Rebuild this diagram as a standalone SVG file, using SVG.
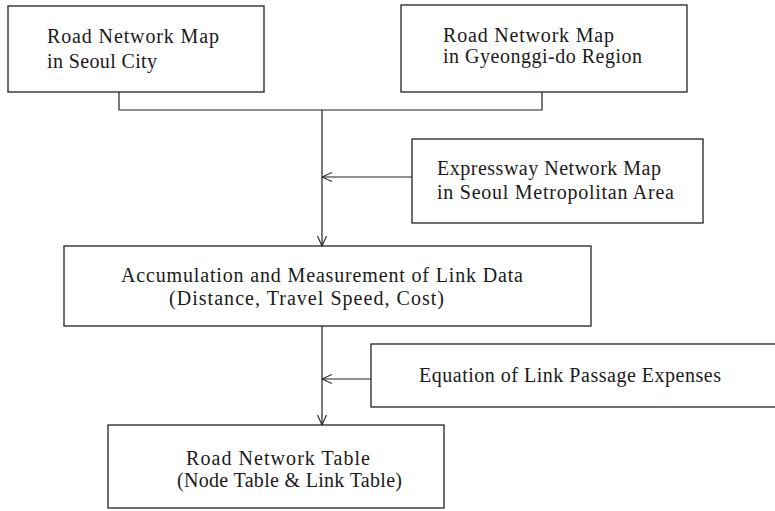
<svg xmlns="http://www.w3.org/2000/svg" width="775" height="511" viewBox="0 0 775 511">
  <style>
    .box { fill: #fff; stroke: #222; stroke-width: 1.3; }
    .lbl { font-family: "Liberation Serif", "DejaVu Serif", serif; font-size: 20px; fill: #1a1a1a; }
    .wire { fill: none; stroke: #222; stroke-width: 1.2; }
  </style>
  <defs>
    <marker id="arrow" viewBox="0 0 10 10" refX="10" refY="5" markerWidth="10" markerHeight="10" markerUnits="userSpaceOnUse" orient="auto">
      <path d="M0,0.5 L10,5 L0,9.5" fill="none" stroke="#222" stroke-width="1.1"/>
    </marker>
  </defs>
  <rect width="775" height="511" fill="#fff"/>

  <g id="connectors">
    <path class="wire" d="M119,92 V110 H542 V92"/>
    <path class="wire" d="M322,110 V246" marker-end="url(#arrow)"/>
    <path class="wire" d="M412,177 H322" marker-end="url(#arrow)"/>
    <path class="wire" d="M322,326 V425" marker-end="url(#arrow)"/>
    <path class="wire" d="M371,379 H322" marker-end="url(#arrow)"/>
  </g>

  <g id="seoul-map">
    <rect class="box" x="8" y="6" width="256" height="86"/>
    <text class="lbl" x="47" y="43" textLength="172" lengthAdjust="spacing">Road Network Map</text>
    <text class="lbl" x="47" y="68" textLength="110" lengthAdjust="spacing">in Seoul City</text>
  </g>

  <g id="gyeonggi-map">
    <rect class="box" x="401" y="5" width="286" height="87"/>
    <text class="lbl" x="443" y="42" textLength="171" lengthAdjust="spacing">Road Network Map</text>
    <text class="lbl" x="443" y="63" textLength="199" lengthAdjust="spacing">in Gyeonggi-do Region</text>
  </g>

  <g id="expressway-map">
    <rect class="box" x="412" y="139" width="291" height="84"/>
    <text class="lbl" x="437" y="175" textLength="224" lengthAdjust="spacing">Expressway Network Map</text>
    <text class="lbl" x="437" y="199" textLength="237" lengthAdjust="spacing">in Seoul Metropolitan Area</text>
  </g>

  <g id="link-data">
    <rect class="box" x="64" y="246" width="527" height="80"/>
    <text class="lbl" x="121" y="282" textLength="402" lengthAdjust="spacing">Accumulation and Measurement of Link Data</text>
    <text class="lbl" x="169" y="305" textLength="275" lengthAdjust="spacing">(Distance, Travel Speed, Cost)</text>
  </g>

  <g id="passage-expenses">
    <rect class="box" x="371" y="344" width="410" height="63"/>
    <text class="lbl" x="419" y="382" textLength="302" lengthAdjust="spacing">Equation of Link Passage Expenses</text>
  </g>

  <g id="network-table">
    <rect class="box" x="108" y="425" width="336" height="83"/>
    <text class="lbl" x="186" y="465" textLength="184" lengthAdjust="spacing">Road Network Table</text>
    <text class="lbl" x="177" y="487" textLength="225" lengthAdjust="spacing">(Node Table &amp; Link Table)</text>
  </g>
</svg>
